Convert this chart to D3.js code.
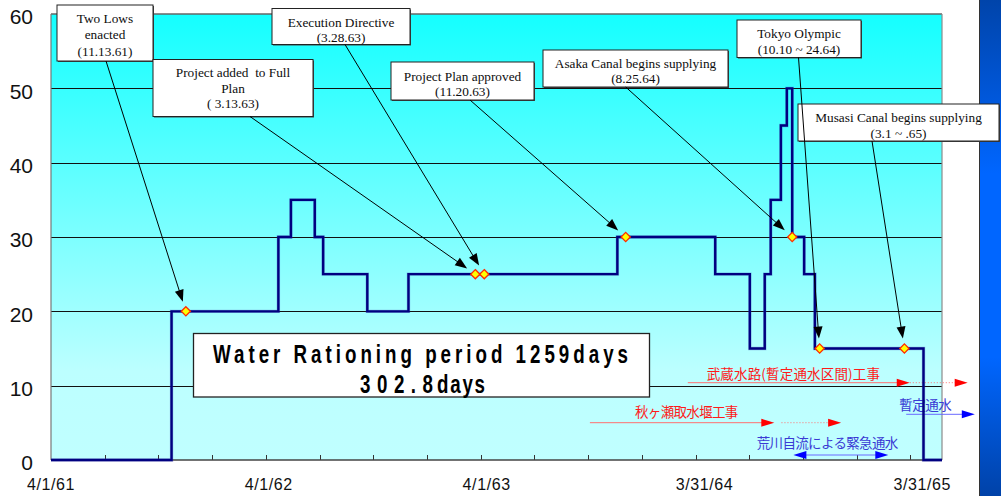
<!DOCTYPE html>
<html><head><meta charset="utf-8">
<script src="https://cdn.jsdelivr.net/npm/d3@7"></script>
<style>body{margin:0;background:#fff;} svg{display:block;}</style>
</head><body>
<svg id="c" width="1001" height="496"></svg>
<script>
// ---------------- DATA ----------------
const xDomain = ["1961-04-01", "1965-05-03"];
const stepDates = ["1961-04-01","1961-10-20","1962-04-17","1962-05-08","1962-06-17","1962-07-01",
  "1962-09-13","1962-11-21","1963-11-06","1964-04-18","1964-06-15","1964-07-10","1964-07-20",
  "1964-08-06","1964-08-16","1964-08-25","1964-09-14","1964-10-02","1965-04-02","1965-05-03"];
const stepValues = [0,20,30,35,30,25,20,25,30,25,15,25,35,45,50,30,25,15,0,0];
const yTicks = [0,10,20,30,40,50,60];
const xLabelDates = ["1961-04-01","1962-04-01","1963-04-01","1964-03-31","1965-03-31"];
const xLabels = ["4/1/61","4/1/62","4/1/63","3/31/64","3/31/65"];
const tickEveryDays = 90;
const noteDates = ["1961-11-13","1963-03-13","1963-03-28","1963-11-20","1964-08-25","1964-10-10","1965-03-01"];
const noteTexts = [
  ["Two Lows","enacted","(11.13.61)"],
  ["Project added  to Full","Plan","( 3.13.63)"],
  ["Execution Directive","(3.28.63)"],
  ["Project Plan approved","(11.20.63)"],
  ["Asaka Canal begins supplying","(8.25.64)"],
  ["Tokyo Olympic","(10.10 ~ 24.64)"],
  ["Musasi Canal begins supplying","(3.1 ~ .65)"]
];
const summaryLine1 = "Water Rationing period 1259days";
const summaryLine2 = ["302.8","days"];
const jpTexts = ["武蔵水路(暫定通水区間)工事","秋ヶ瀬取水堰工事","暫定通水","荒川自流による緊急通水"];
const jpArrowDates = [
  ["1964-03-03","1965-03-10","1965-03-10","1965-06-15"],
  ["1963-09-21","1964-07-26","1964-08-07","1964-11-15"],
  ["1965-03-04","1965-06-27"],
  ["1964-08-27","1965-02-02"]
];

// ---------------- LAYOUT ----------------
const L = {left:51, right:942, top:14, bottom:460};
const boxLayout = [
  {x:57, y:5, w:96, h:56, ax:106, base:[23.3,38.5,55.5]},
  {x:153, y:59.5, w:160, h:57, ax:250, base:[77,92.5,108]},
  {x:272, y:8.5, w:138, h:36, ax:345, base:[26.5,41.5]},
  {x:391, y:62, w:143, h:38, ax:470, base:[80.5,96]},
  {x:543, y:50, w:185, h:37, ax:625.7, base:[67.5,83]},
  {x:737, y:20, w:124, h:37.5, ax:798.5, base:[38,53.5]},
  {x:798, y:104, w:201, h:37, ax:872, base:[122,137.5]}
];
const jpLayout = [
  {tx:706.7, tw:173.3, ty:378.7, ay:382.7, color:"#ff1a1a", line:"#ff6f6f", head:"#ff0000", type:"solidDotted"},
  {tx:635, tw:103.3, ty:416.6, ay:422.7, color:"#ff1a1a", line:"#ff6f6f", head:"#ff0000", type:"solidGapDotted"},
  {tx:899.3, tw:52.4, ty:410, ay:414.3, color:"#3a3ad4", line:"#6a6aff", head:"#0000ff", type:"single"},
  {tx:756.7, tw:141.6, ty:447.7, ay:455, color:"#3a3ad4", line:"#6a6aff", head:"#0000ff", type:"double"}
];

// ---------------- CHART ----------------
const svg = d3.select("#c");
const parse = d3.utcParse("%Y-%m-%d");
const start = parse(xDomain[0]), end = parse(xDomain[1]);
const x = d3.scaleUtc().domain([start, end]).range([L.left, L.right]);
const y = d3.scaleLinear().domain([0, 60]).range([L.bottom, L.top]);
const series = stepDates.map((d,i)=>({date:parse(d), v:stepValues[i]}));

const defs = svg.append("defs");
const bg = defs.append("linearGradient").attr("id","bg").attr("x1",0).attr("y1",0).attr("x2",0).attr("y2",1);
bg.append("stop").attr("offset","0%").attr("stop-color","#14ffff");
bg.append("stop").attr("offset","80%").attr("stop-color","#bcffff");
bg.append("stop").attr("offset","100%").attr("stop-color","#c0ffff");
const bar = defs.append("linearGradient").attr("id","bar").attr("x1",0).attr("y1",0).attr("x2",0).attr("y2",1);
bar.append("stop").attr("offset","0%").attr("stop-color","#0044aa");
bar.append("stop").attr("offset","35%").attr("stop-color","#0066ff");
bar.append("stop").attr("offset","72%").attr("stop-color","#0066ff");
bar.append("stop").attr("offset","100%").attr("stop-color","#0042a8");

// right decorative bar
svg.append("rect").attr("x",979).attr("y",0).attr("width",22).attr("height",496).attr("fill","url(#bar)");
svg.append("line").attr("x1",979.5).attr("x2",979.5).attr("y1",0).attr("y2",496).attr("stroke","#333").attr("stroke-width",1);

// plot background
svg.append("rect").attr("x",L.left).attr("y",L.top).attr("width",L.right-L.left).attr("height",L.bottom-L.top)
  .attr("fill","url(#bg)");

// gridlines
svg.append("g").selectAll("line").data(yTicks.filter(t=>t>0 && t<60)).join("line")
  .attr("x1",L.left).attr("x2",L.right)
  .attr("y1",d=>Math.round(y(d))+0.5).attr("y2",d=>Math.round(y(d))+0.5)
  .attr("stroke","#111").attr("stroke-width",1);

// frame
svg.append("line").attr("x1",L.left).attr("x2",L.right).attr("y1",L.top).attr("y2",L.top).attr("stroke","#666").attr("stroke-width",1.5);
svg.append("line").attr("x1",L.right).attr("x2",L.right).attr("y1",L.top).attr("y2",L.bottom).attr("stroke","#8a8a8a").attr("stroke-width",1.2);
svg.append("line").attr("x1",L.left).attr("x2",L.left).attr("y1",L.top).attr("y2",L.bottom).attr("stroke","#777").attr("stroke-width",1.2);

// y labels
svg.append("g").selectAll("text").data(yTicks).join("text")
  .attr("x",33).attr("y",d=>y(d)+3).attr("dy","0.35em").attr("text-anchor","end")
  .attr("font-family","'Liberation Sans', Arial, sans-serif").attr("font-size",21).attr("fill","#111")
  .text(d=>d);

// x ticks every 90 days
const xTickDates = [];
for (let i=1; ; i++) { const d = d3.utcDay.offset(start, tickEveryDays*i); if (d > end) break; xTickDates.push(d); }
svg.append("g").selectAll("line").data(xTickDates).join("line")
  .attr("x1",d=>Math.round(x(d))+0.5).attr("x2",d=>Math.round(x(d))+0.5)
  .attr("y1",L.bottom-5).attr("y2",L.bottom).attr("stroke","#333").attr("stroke-width",1);
svg.append("line").attr("x1",L.left).attr("x2",L.right).attr("y1",L.bottom).attr("y2",L.bottom).attr("stroke","#444").attr("stroke-width",1.5);
svg.append("g").selectAll("text").data(xLabelDates).join("text")
  .attr("x",d=>x(parse(d))).attr("y",489.5).attr("text-anchor","middle")
  .attr("font-family","'Liberation Sans', Arial, sans-serif").attr("font-size",16).attr("letter-spacing",0.6).attr("fill","#111")
  .text((d,i)=>xLabels[i]);

// summary box
const sb = {x:193.5, y:333.5, w:456, h:63.5, sx:0.75};
svg.append("rect").attr("x",sb.x).attr("y",sb.y).attr("width",sb.w).attr("height",sb.h)
  .attr("fill","#fff").attr("stroke","#222").attr("stroke-width",1.3);
const sumFont = "'Liberation Sans', Arial, sans-serif";
svg.append("text").attr("transform",`translate(213,363) scale(${sb.sx},1)`)
  .attr("font-family",sumFont).attr("font-weight","bold").attr("font-size",25).attr("fill","#000")
  .attr("textLength",415/sb.sx).attr("lengthAdjust","spacing").text(summaryLine1);
const t2 = svg.append("text").attr("transform",`translate(0,392.5) scale(${sb.sx},1)`)
  .attr("font-family",sumFont).attr("font-weight","bold").attr("font-size",25).attr("fill","#000");
t2.append("tspan").attr("x",360/sb.sx).attr("textLength",(433-360)/sb.sx).attr("lengthAdjust","spacing").text(summaryLine2[0]);
t2.append("tspan").attr("x",437/sb.sx).attr("textLength",(485-437)/sb.sx).attr("lengthAdjust","spacing").text(summaryLine2[1]);

// Japanese annotations
function head(g, tipX, yy, dir, color) {
  const len = 13, hw = 4;
  g.append("path").attr("d",`M${tipX},${yy} L${tipX-dir*len},${yy-hw} L${tipX-dir*len},${yy+hw} Z`).attr("fill",color);
}
const jg = svg.append("g");
jpTexts.forEach((t,i)=>{
  const lay = jpLayout[i];
  const ds = jpArrowDates[i].map(d=>x(parse(d)));
  jg.append("text").attr("x",lay.tx).attr("y",lay.ty).attr("textLength",lay.tw).attr("lengthAdjust","spacing")
    .attr("font-family","'Noto Sans CJK JP', sans-serif").attr("font-size",13.5).attr("fill",lay.color).text(t);
  if (lay.type === "solidDotted" || lay.type === "solidGapDotted") {
    jg.append("line").attr("x1",ds[0]).attr("x2",ds[1]-6).attr("y1",lay.ay).attr("y2",lay.ay).attr("stroke",lay.line).attr("stroke-width",1);
    head(jg, ds[1], lay.ay, 1, lay.head);
    jg.append("line").attr("x1",ds[2]).attr("x2",ds[3]-6).attr("y1",lay.ay).attr("y2",lay.ay).attr("stroke",lay.line).attr("stroke-width",1).attr("stroke-dasharray","1,2");
    head(jg, ds[3], lay.ay, 1, lay.head);
  } else if (lay.type === "single") {
    jg.append("line").attr("x1",ds[0]).attr("x2",ds[1]-6).attr("y1",lay.ay).attr("y2",lay.ay).attr("stroke",lay.line).attr("stroke-width",1);
    head(jg, ds[1], lay.ay, 1, lay.head);
  } else {
    jg.append("line").attr("x1",ds[0]+6).attr("x2",ds[1]-6).attr("y1",lay.ay).attr("y2",lay.ay).attr("stroke",lay.line).attr("stroke-width",1);
    head(jg, ds[0], lay.ay, -1, lay.head);
    head(jg, ds[1], lay.ay, 1, lay.head);
  }
});

// step line
const line = d3.line().x(d=>x(d.date)).y(d=>y(d.v)).curve(d3.curveStepAfter);
svg.append("path").datum(series).attr("d",line).attr("fill","none").attr("stroke","#3b3bb0").attr("stroke-width",3.4).attr("stroke-opacity",0.35);
svg.append("path").datum(series).attr("d",line).attr("fill","none").attr("stroke","#000080").attr("stroke-width",2.4);

// markers
const bis = d3.bisector(d=>d.date).right;
const notePts = noteDates.map(d=>{ const dt = parse(d); const v = series[bis(series, dt)-1].v; return {px:x(dt), py:y(v)}; });
svg.append("g").selectAll("path").data(notePts).join("path")
  .attr("transform",d=>`translate(${d.px},${d.py})`)
  .attr("d","M0,-4.6 L4.6,0 L0,4.6 L-4.6,0 Z").attr("fill","#ffff00").attr("stroke","#ff2a00").attr("stroke-width",1.3);

// annotation boxes
const ag = svg.append("g");
noteTexts.forEach((lines,i)=>{
  const b = boxLayout[i];
  ag.append("rect").attr("x",b.x+1).attr("y",b.y+1).attr("width",b.w).attr("height",b.h).attr("fill","#444");
  ag.append("rect").attr("x",b.x).attr("y",b.y).attr("width",b.w).attr("height",b.h).attr("fill","#fff").attr("stroke","#222").attr("stroke-width",1);
  lines.forEach((t,j)=>{
    ag.append("text").attr("x",b.x+b.w/2).attr("y",b.base[j]).attr("text-anchor","middle")
      .attr("font-family","'Liberation Serif', 'Times New Roman', serif").attr("font-size",13.3).attr("fill","#0d0d0d")
      .attr("xml:space","preserve").style("white-space","pre").text(t);
  });
});
// arrows from boxes to markers
noteTexts.forEach((lines,i)=>{
  const b = boxLayout[i], p = notePts[i];
  const x0 = b.ax, y0 = b.y + b.h;
  const dx = p.px - x0, dy = p.py - y0, len = Math.hypot(dx,dy);
  const ux = dx/len, uy = dy/len, nx = -uy, ny = ux;
  const tx = p.px - ux*10, ty = p.py - uy*10;
  const hl = 12, hw = 4.5;
  ag.append("line").attr("x1",x0).attr("y1",y0).attr("x2",tx-ux*6).attr("y2",ty-uy*6).attr("stroke","#000").attr("stroke-width",1);
  ag.append("path").attr("d",`M${tx},${ty} L${tx-ux*hl+nx*hw},${ty-uy*hl+ny*hw} L${tx-ux*hl-nx*hw},${ty-uy*hl-ny*hw} Z`).attr("fill","#000");
});
</script>
</body></html>
